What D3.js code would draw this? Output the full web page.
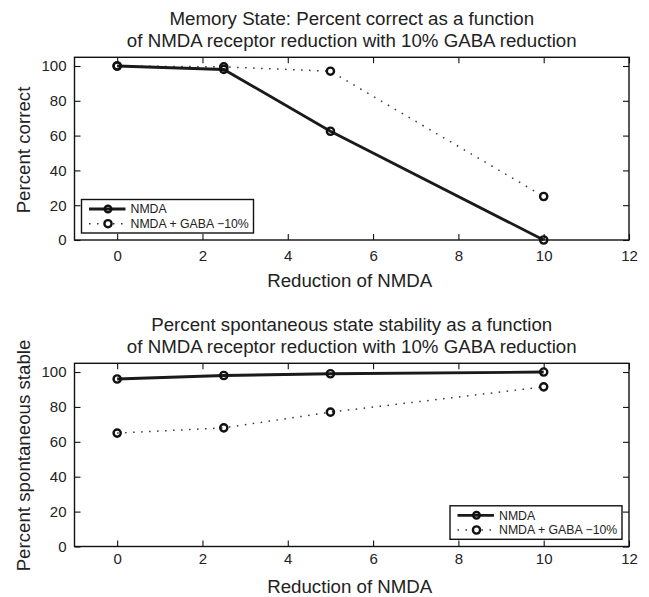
<!DOCTYPE html>
<html><head><meta charset="utf-8">
<script src="https://cdn.jsdelivr.net/npm/d3@7"></script>
<style>body{margin:0;background:#fff}svg{display:block}text{font-family:"Liberation Sans",Arial,sans-serif;fill:#222}</style>
</head><body>
<script>
const xValues = [0, 2.5, 5, 10];
const memNMDA = [100, 98, 62.5, 0];
const memGABA = [100, 99.5, 97, 25];
const spoNMDA = [96, 98, 99, 100];
const spoGABA = [65, 68, 77, 91.5];
const xTicks = [0, 2, 4, 6, 8, 10, 12];
const yTicks = [0, 20, 40, 60, 80, 100];
const seriesNames = ["NMDA", "NMDA + GABA \u221210%"];

const svg = d3.select("body").append("svg").attr("width", 649).attr("height", 597);
const FONT = '"Liberation Sans",Arial,sans-serif';

function panel(cfg) {
  const L = 74.5, R = 629, T = cfg.top, B = cfg.bottom;
  const x = d3.scaleLinear().domain([-1, 12]).range([L, R]);
  const y = d3.scaleLinear().domain([0, 105]).range([B, T]);
  const g = svg.append("g");
  const cx = (L + R) / 2;
  g.append("text").attr("x", cx).attr("y", T - 32).attr("text-anchor", "middle").style("font-size", "18.7px").text(cfg.title[0]);
  g.append("text").attr("x", cx).attr("y", T - 10).attr("text-anchor", "middle").style("font-size", "18.7px").text(cfg.title[1]);

  const ax = d3.axisBottom(x).tickValues(xTicks).tickSize(-6).tickPadding(cfg.xpad);
  const gx = g.append("g").attr("transform", `translate(0,${B})`).call(ax);
  const gxt = g.append("g").attr("transform", `translate(0,${T})`).call(d3.axisTop(x).tickValues(xTicks).tickSize(-6).tickFormat(""));
  const gy = g.append("g").attr("transform", `translate(${L},0)`).call(d3.axisLeft(y).tickValues(yTicks).tickSize(-6).tickPadding(8));
  const gyr = g.append("g").attr("transform", `translate(${R},0)`).call(d3.axisRight(y).tickValues(yTicks).tickSize(-6).tickFormat(""));
  [gx, gxt, gy, gyr].forEach(a => {
    a.select(".domain").remove();
    a.selectAll("line").attr("stroke", "#111").attr("stroke-width", 1.1);
    a.selectAll("text").attr("fill", "#222").style("font-size", "15px").style("font-family", FONT);
  });
  g.append("rect").attr("x", L).attr("y", T).attr("width", R - L).attr("height", B - T)
    .attr("fill", "none").attr("stroke", "#111").attr("stroke-width", 1.4);

  g.append("text").attr("x", cx - 2).attr("y", B + cfg.xlabOff).attr("text-anchor", "middle").style("font-size", "18.7px").text("Reduction of NMDA");
  g.append("text").attr("transform", `translate(30,${cfg.ylabC}) rotate(-90)`).attr("text-anchor", "middle").style("font-size", "18.7px").text(cfg.ylabel);

  const line = d3.line().x((d, i) => x(xValues[i])).y(d => y(d));
  g.append("path").datum(cfg.gaba).attr("d", line).attr("fill", "none").attr("stroke", "#333")
    .attr("stroke-width", 1.5).attr("stroke-dasharray", "1.5,6.5");
  g.append("path").datum(cfg.nmda).attr("d", line).attr("fill", "none").attr("stroke", "#1a1a1a")
    .attr("stroke-width", 2.8);
  [cfg.gaba, cfg.nmda].forEach(s => {
    g.selectAll(null).data(s).enter().append("circle")
      .attr("cx", (d, i) => x(xValues[i])).attr("cy", d => y(d)).attr("r", 3.6)
      .attr("fill", "none").attr("stroke", "#111").attr("stroke-width", 2.4);
  });

  const lg = cfg.legend;
  g.append("rect").attr("x", lg.x).attr("y", lg.y).attr("width", 172).attr("height", 33.5)
    .attr("fill", "#fff").attr("stroke", "#111").attr("stroke-width", 1.4);
  seriesNames.forEach((nm, i) => {
    const yy = lg.y + 9.5 + i * 14.7;
    g.append("line").attr("x1", lg.x + 7.5).attr("x2", lg.x + 44).attr("y1", yy).attr("y2", yy)
      .attr("stroke", i === 0 ? "#1a1a1a" : "#333").attr("stroke-width", i === 0 ? 2.8 : 1.5)
      .attr("stroke-dasharray", i === 0 ? null : "1.5,6.5");
    g.append("circle").attr("cx", lg.x + 26.5).attr("cy", yy).attr("r", i === 0 ? 3.3 : 3.6)
      .attr("fill", i === 0 ? "none" : "#fff").attr("stroke", "#111").attr("stroke-width", 2.4);
    g.append("text").attr("x", lg.x + 49).attr("y", yy + 4.3).style("font-size", "12.3px").text(nm);
  });
}

panel({
  top: 57.3, bottom: 240, xpad: 10, xlabOff: 47,
  title: ["Memory State: Percent correct as a function", "of NMDA receptor reduction with 10% GABA reduction"],
  ylabel: "Percent correct", ylabC: 150, nmda: memNMDA, gaba: memGABA,
  legend: { x: 81.5, y: 199.5 }
});
panel({
  top: 363.3, bottom: 546.5, xpad: 7, xlabOff: 46,
  title: ["Percent spontaneous state stability as a function", "of NMDA receptor reduction with 10% GABA reduction"],
  ylabel: "Percent spontaneous stable", ylabC: 455.5, nmda: spoNMDA, gaba: spoGABA,
  legend: { x: 450, y: 505.8 }
});
</script>
</body></html>
